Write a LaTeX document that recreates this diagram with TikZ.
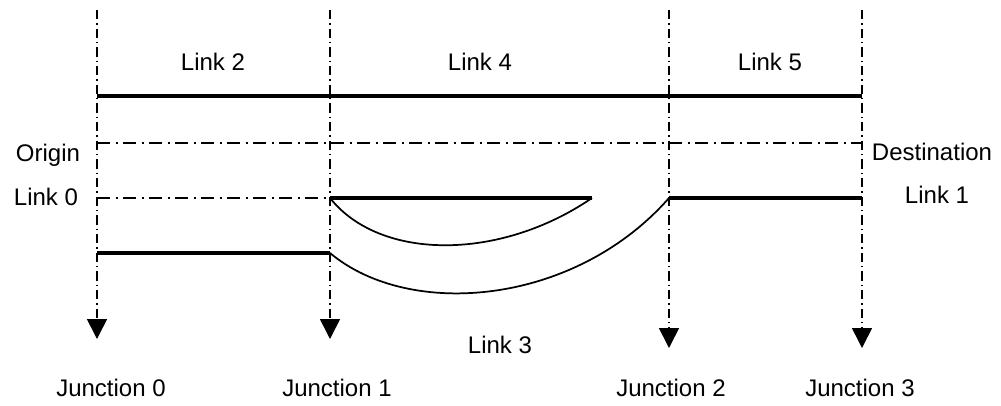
\documentclass[tikz,border=0pt]{standalone}
\usepackage{fontspec}
\setmainfont{Liberation Sans}
\usetikzlibrary{arrows.meta}

\begin{document}
\begin{tikzpicture}[x=.75pt,y=-.75pt,
  font=\fontsize{18}{21}\selectfont,
  junc/.style={line width=1.2pt, dash pattern=on 7pt off 3pt on 1pt off 3pt,
    -{Triangle[width=15pt,length=15pt]}},
  path/.style={line width=3pt},
  route/.style={line width=1.3pt},
  dashline/.style={line width=1.2pt, dash pattern=on 10pt off 4pt on 1.5pt off 4pt}]
\useasboundingbox (0,0) rectangle (1001,405);

% junction points
\coordinate (j0top) at (97,10);   \coordinate (j0end) at (97,339);
\coordinate (j1top) at (330,10);  \coordinate (j1end) at (330,339);
\coordinate (j2top) at (669,10);  \coordinate (j2end) at (669,348);
\coordinate (j3top) at (862,10);  \coordinate (j3end) at (862,348);

\draw[junc] (j0top) -- (j0end); % junction 0
\draw[junc] (j1top) -- (j1end); % junction 1
\draw[junc] (j2top) -- (j2end); % junction 2
\draw[junc] (j3top) -- (j3end); % junction 3

% lanes
\coordinate (topL) at (97,96);    \coordinate (topR) at (862,96);
\coordinate (orgL) at (97,143);   \coordinate (orgR) at (862,143);
\coordinate (l0a) at (97,198);    \coordinate (l0b) at (330,198);
\coordinate (l4b) at (592,198);
\coordinate (l1a) at (669,198);   \coordinate (l1b) at (862,198);
\coordinate (lowL) at (97,253);   \coordinate (lowR) at (330,253);

\draw[path] (topL) -- (topR); % links 2, 4, 5
\draw[dashline] (orgL) -- (orgR);
\draw[dashline] (l0a) -- (l0b);
\draw[path] (l0b) -- (l4b);
\draw[path] (l1a) -- (l1b); % link 1
\draw[path] (lowL) -- (lowR);

% turning routes
\draw[route] (l0b) .. controls (380,261) and (500,261) .. (l4b);
\draw[route] (lowR) .. controls (410,320) and (575,305) .. (l1a);

% labels
\node (lk2) at (213,62) {Link 2};
\node (lk4) at (480,62) {Link 4};
\node (lk5) at (770,62) {Link 5};
\node (org) at (48,155) {Origin};
\node (lk0) at (46,197) {Link 0};
\node (dst) at (932,152) {Destination};
\node (lk1) at (937,195) {Link 1};
\node (lk3) at (500,345) {Link 3};
\node (jn0) at (111,388) {Junction 0};
\node (jn1) at (337,388) {Junction 1};
\node (jn2) at (671,388) {Junction 2};
\node (jn3) at (860,388) {Junction 3};
\end{tikzpicture}
\end{document}
